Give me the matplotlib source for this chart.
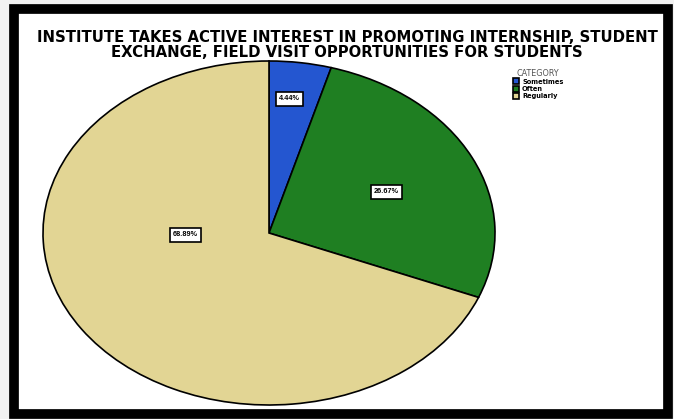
import matplotlib.pyplot as plt
from matplotlib.patches import Rectangle

# data
categories = ['Sometimes', 'Often', 'Regularly']
shares = [4.44, 26.67, 68.89]
colors = ['#2456d0', '#1f7f22', '#e2d594']
title = ('INSTITUTE TAKES ACTIVE INTEREST IN PROMOTING INTERNSHIP, STUDENT\n'
         'EXCHANGE, FIELD VISIT OPPORTUNITIES FOR STUDENTS')

# where the percentage boxes sit (in pie radius units)
label_pos = [(0.09, 0.78), (0.52, 0.24), (-0.37, -0.01)]

W, H = 674, 419
fig = plt.figure(figsize=(W / 100, H / 100), dpi=100)
fig.patch.set_facecolor('#f2f2f2')

# black frame round the chart (photo of a screen)
fig.patches.append(Rectangle((14 / W, 5 / H), 654 / W, 405 / H, transform=fig.transFigure,
                             facecolor='white', edgecolor='black', linewidth=7, zorder=-5))

# pie is stretched into an ellipse
cx, cy, rx, ry = 269, 233, 226, 172
ax = fig.add_axes([(cx - rx) / W, (H - cy - ry) / H, 2 * rx / W, 2 * ry / H])
ax.patch.set_alpha(0)
wedges, texts, autotexts = ax.pie(shares, colors=colors, startangle=90, counterclock=False,
                                  autopct='%1.2f%%', radius=1,
                                  wedgeprops=dict(edgecolor='black', linewidth=1.2))
ax.set_aspect('auto')
ax.set_xlim(-1, 1)
ax.set_ylim(-1, 1)
ax.axis('off')

for t, (px, py) in zip(autotexts, label_pos):
    t.set_position((px, py))
    t.set_fontsize(5.3)
    t.set_fontweight('bold')
    t.set_family('Liberation Sans')
    t.set_bbox(dict(facecolor='white', edgecolor='black', boxstyle='square,pad=0.45', linewidth=1.2))

fig.text(347 / W, 1 - 45 / H, title, ha='center', va='center', fontsize=10.7,
         fontweight='bold', family='DejaVu Sans', linespacing=0.92)

fig.legend(wedges, categories, title='CATEGORY', loc='upper left',
           bbox_to_anchor=(508 / W, 1 - 64 / H), frameon=False,
           fontsize=4.8, title_fontsize=5.8, handlelength=1.0, handleheight=1.0,
           labelspacing=0.12, handletextpad=0.4, borderpad=0.2)
leg = fig.legends[0]
leg.get_title().set_color('#555555')
for txt in leg.get_texts():
    txt.set_fontweight('bold')

fig.savefig('out.png', dpi=100)
